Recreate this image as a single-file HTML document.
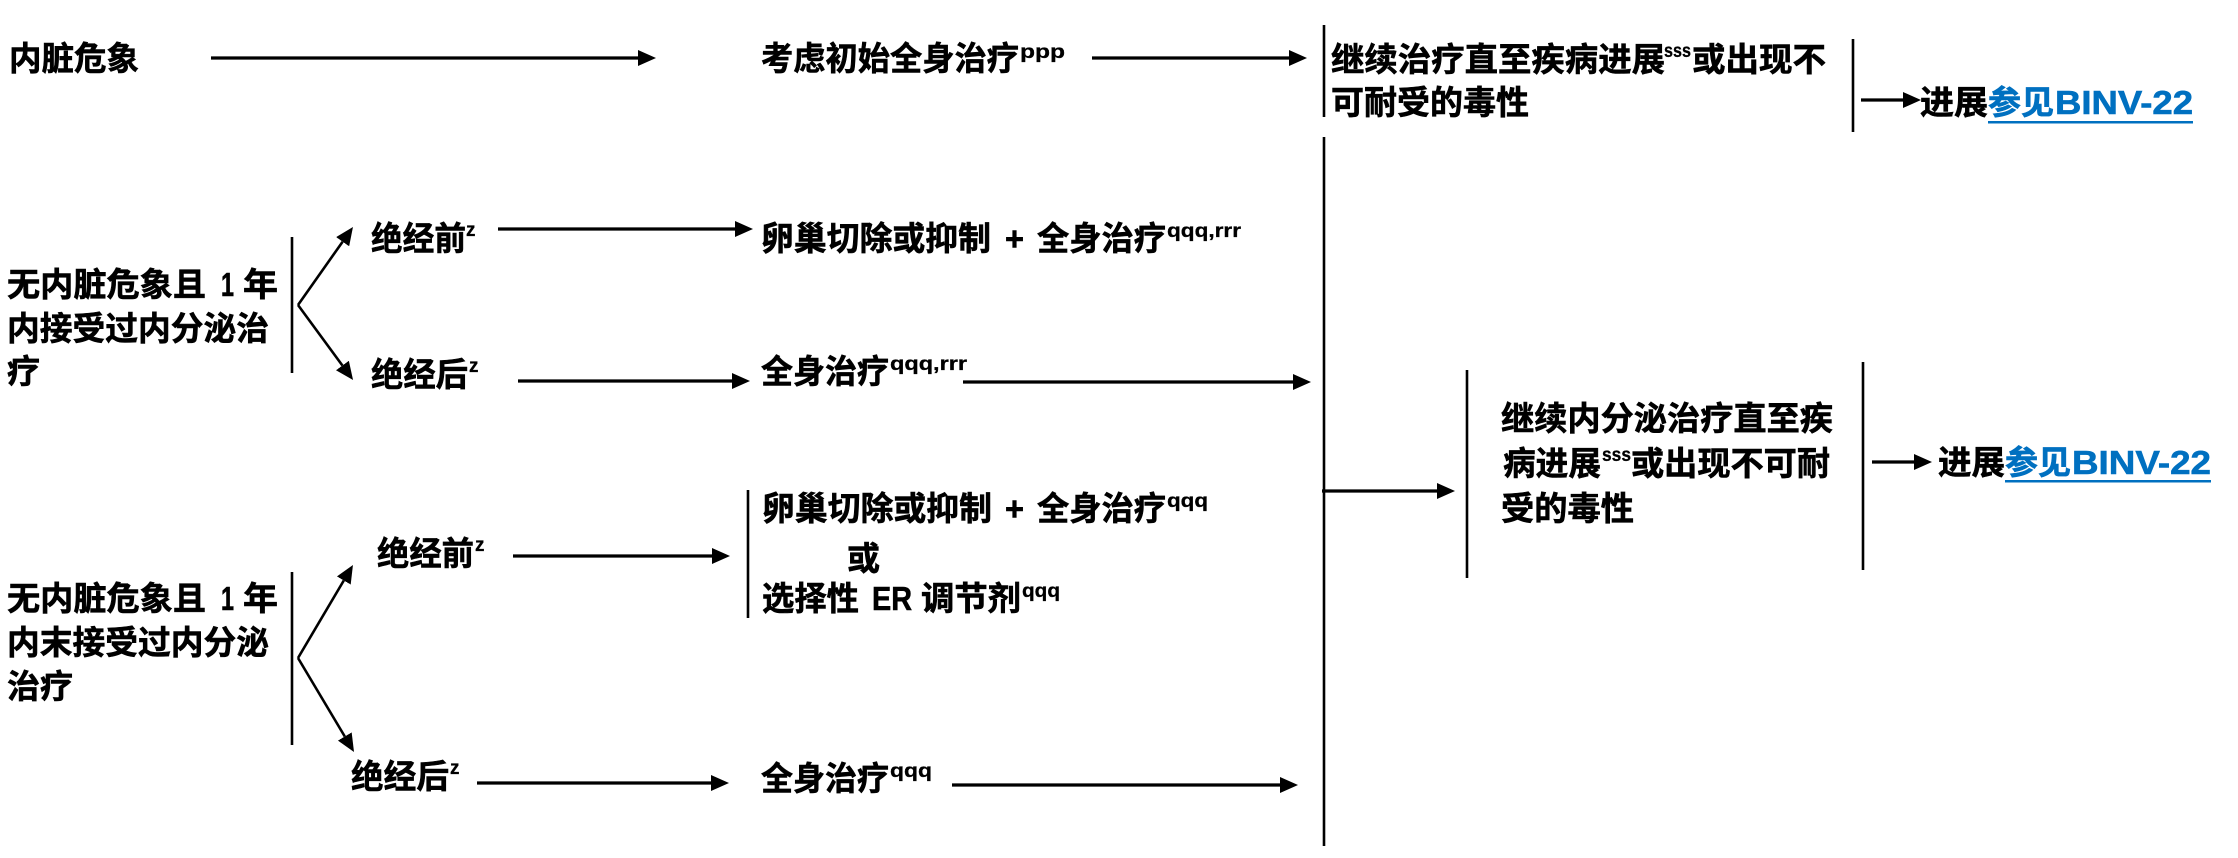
<!DOCTYPE html>
<html><head><meta charset="utf-8"><style>
html,body{margin:0;padding:0;background:#fff;}
svg{display:block;}
text{font-family:"Liberation Sans","Noto Sans CJK SC",sans-serif;font-weight:700;fill:#000;stroke:#000;stroke-width:0.6px;}
.m{font-size:33px;}
.s{font-size:19px;stroke-width:0.3px;}
.z{font-size:19px;stroke-width:0.3px;}
.b{fill:#0070C0;stroke:#0070C0;}
</style></head><body>
<svg width="2238" height="858" viewBox="0 0 2238 858" xmlns="http://www.w3.org/2000/svg">
<defs>
<marker id="ah" markerWidth="18" markerHeight="16" refX="0" refY="8" orient="auto" markerUnits="userSpaceOnUse"><path d="M0,0 L18,8 L0,16 z" fill="#000"/></marker>
</defs>
<g stroke="#000" stroke-width="3.2" fill="none">
<!-- horizontal arrows -->
<line x1="211" y1="58" x2="638" y2="58" marker-end="url(#ah)"/>
<line x1="1092" y1="58" x2="1289" y2="58" marker-end="url(#ah)"/>
<line x1="1861" y1="100" x2="1903" y2="100" marker-end="url(#ah)"/>
<line x1="498" y1="229" x2="735" y2="229" marker-end="url(#ah)"/>
<line x1="518" y1="381" x2="732" y2="381" marker-end="url(#ah)"/>
<line x1="963" y1="382" x2="1293" y2="382" marker-end="url(#ah)"/>
<line x1="1322" y1="491" x2="1437" y2="491" marker-end="url(#ah)"/>
<line x1="513" y1="556" x2="712" y2="556" marker-end="url(#ah)"/>
<line x1="477" y1="783" x2="711" y2="783" marker-end="url(#ah)"/>
<line x1="952" y1="785" x2="1280" y2="785" marker-end="url(#ah)"/>
<line x1="1872" y1="462" x2="1914" y2="462" marker-end="url(#ah)"/>
<!-- diagonal arrows -->
<line x1="298" y1="305" x2="342.6" y2="241.7" stroke-width="2.6" marker-end="url(#ah)"/>
<line x1="298" y1="305" x2="342.4" y2="365.5" stroke-width="2.6" marker-end="url(#ah)"/>
<line x1="298" y1="658" x2="343.8" y2="580.5" stroke-width="2.6" marker-end="url(#ah)"/>
<line x1="298" y1="658" x2="344.8" y2="736.5" stroke-width="2.6" marker-end="url(#ah)"/>
</g>
<g stroke="#000" stroke-width="2.6">
<!-- vertical bars -->
<line x1="1324" y1="25" x2="1324" y2="117"/>
<line x1="1853" y1="39" x2="1853" y2="132"/>
<line x1="1324" y1="137" x2="1324" y2="846"/>
<line x1="1467" y1="370" x2="1467" y2="578"/>
<line x1="1863" y1="362" x2="1863" y2="570"/>
<line x1="292" y1="237" x2="292" y2="373"/>
<line x1="292" y1="572" x2="292" y2="745"/>
<line x1="748" y1="490" x2="748" y2="618"/>
</g>
<!-- underlines -->
<rect x="1988" y="121" width="205" height="2.5" fill="#0070C0"/>
<rect x="2005" y="480" width="206" height="2.5" fill="#0070C0"/>

<!-- top row -->
<text class="m" x="9" y="70" textLength="130" lengthAdjust="spacingAndGlyphs">内脏危象</text>
<text class="m" x="761" y="70" textLength="258" lengthAdjust="spacingAndGlyphs">考虑初始全身治疗</text>
<text class="s" x="1020" y="58" textLength="45" lengthAdjust="spacingAndGlyphs">ppp</text>
<text class="m" x="1331" y="71" textLength="334" lengthAdjust="spacingAndGlyphs">继续治疗直至疾病进展</text>
<text class="z" x="1664" y="57" textLength="27" lengthAdjust="spacingAndGlyphs">sss</text>
<text class="m" x="1692" y="71" textLength="134" lengthAdjust="spacingAndGlyphs">或出现不</text>
<text class="m" x="1331" y="114">可耐受的毒性</text>
<text class="m" x="1920" y="114" textLength="68" lengthAdjust="spacingAndGlyphs">进展</text>
<text class="m b" x="1988" y="114" textLength="66" lengthAdjust="spacingAndGlyphs">参见</text>
<text class="m b" x="2055" y="114" textLength="138" lengthAdjust="spacingAndGlyphs">BINV-22</text>

<!-- left block 1 -->
<text class="m" x="7" y="296" textLength="199" lengthAdjust="spacingAndGlyphs">无内脏危象且</text>
<text class="m" x="221" y="296" textLength="13" lengthAdjust="spacingAndGlyphs">1</text>
<text class="m" x="243" y="296" textLength="35" lengthAdjust="spacingAndGlyphs">年</text>
<text class="m" x="7" y="340" textLength="262" lengthAdjust="spacingAndGlyphs">内接受过内分泌治</text>
<text class="m" x="7" y="383">疗</text>

<!-- left block 2 -->
<text class="m" x="7" y="610" textLength="199" lengthAdjust="spacingAndGlyphs">无内脏危象且</text>
<text class="m" x="221" y="610" textLength="13" lengthAdjust="spacingAndGlyphs">1</text>
<text class="m" x="243" y="610" textLength="35" lengthAdjust="spacingAndGlyphs">年</text>
<text class="m" x="7" y="654" textLength="262" lengthAdjust="spacingAndGlyphs">内末接受过内分泌</text>
<text class="m" x="7" y="698" textLength="66" lengthAdjust="spacingAndGlyphs">治疗</text>

<!-- menopause labels -->
<text class="m" x="371" y="250" textLength="95" lengthAdjust="spacingAndGlyphs">绝经前</text>
<text class="z" x="466" y="236">z</text>
<text class="m" x="371" y="386" textLength="97" lengthAdjust="spacingAndGlyphs">绝经后</text>
<text class="z" x="469" y="372">z</text>
<text class="m" x="377" y="565" textLength="97" lengthAdjust="spacingAndGlyphs">绝经前</text>
<text class="z" x="475" y="551">z</text>
<text class="m" x="351" y="788" textLength="98" lengthAdjust="spacingAndGlyphs">绝经后</text>
<text class="z" x="450" y="774">z</text>

<!-- middle column -->
<text class="m" x="761" y="250" textLength="230" lengthAdjust="spacingAndGlyphs">卵巢切除或抑制</text>
<text class="m" x="1005" y="250" textLength="19" lengthAdjust="spacingAndGlyphs">+</text>
<text class="m" x="1037" y="250" textLength="129" lengthAdjust="spacingAndGlyphs">全身治疗</text>
<text class="s" x="1167" y="237" textLength="74" lengthAdjust="spacingAndGlyphs">qqq,rrr</text>

<text class="m" x="761" y="383" textLength="128" lengthAdjust="spacingAndGlyphs">全身治疗</text>
<text class="s" x="890" y="370" textLength="77" lengthAdjust="spacingAndGlyphs">qqq,rrr</text>

<text class="m" x="762" y="520" textLength="230" lengthAdjust="spacingAndGlyphs">卵巢切除或抑制</text>
<text class="m" x="1005" y="520" textLength="19" lengthAdjust="spacingAndGlyphs">+</text>
<text class="m" x="1037" y="520" textLength="129" lengthAdjust="spacingAndGlyphs">全身治疗</text>
<text class="s" x="1167" y="507" textLength="41" lengthAdjust="spacingAndGlyphs">qqq</text>
<text class="m" x="847" y="570">或</text>
<text class="m" x="762" y="610" textLength="97" lengthAdjust="spacingAndGlyphs">选择性</text>
<text class="m" x="872" y="610" textLength="40" lengthAdjust="spacingAndGlyphs">ER</text>
<text class="m" x="921" y="610" textLength="100" lengthAdjust="spacingAndGlyphs">调节剂</text>
<text class="s" x="1022" y="597" textLength="38" lengthAdjust="spacingAndGlyphs">qqq</text>

<text class="m" x="761" y="790" textLength="128" lengthAdjust="spacingAndGlyphs">全身治疗</text>
<text class="s" x="890" y="777" textLength="42" lengthAdjust="spacingAndGlyphs">qqq</text>

<!-- right block -->
<text class="m" x="1501" y="430" textLength="332" lengthAdjust="spacingAndGlyphs">继续内分泌治疗直至疾</text>
<text class="m" x="1503" y="475" textLength="98" lengthAdjust="spacingAndGlyphs">病进展</text>
<text class="z" x="1602" y="461" textLength="29" lengthAdjust="spacingAndGlyphs">sss</text>
<text class="m" x="1631" y="475" textLength="199" lengthAdjust="spacingAndGlyphs">或出现不可耐</text>
<text class="m" x="1501" y="520" textLength="133" lengthAdjust="spacingAndGlyphs">受的毒性</text>

<text class="m" x="1938" y="474" textLength="67" lengthAdjust="spacingAndGlyphs">进展</text>
<text class="m b" x="2005" y="474" textLength="66" lengthAdjust="spacingAndGlyphs">参见</text>
<text class="m b" x="2072" y="474" textLength="139" lengthAdjust="spacingAndGlyphs">BINV-22</text>
</svg>
</body></html>
